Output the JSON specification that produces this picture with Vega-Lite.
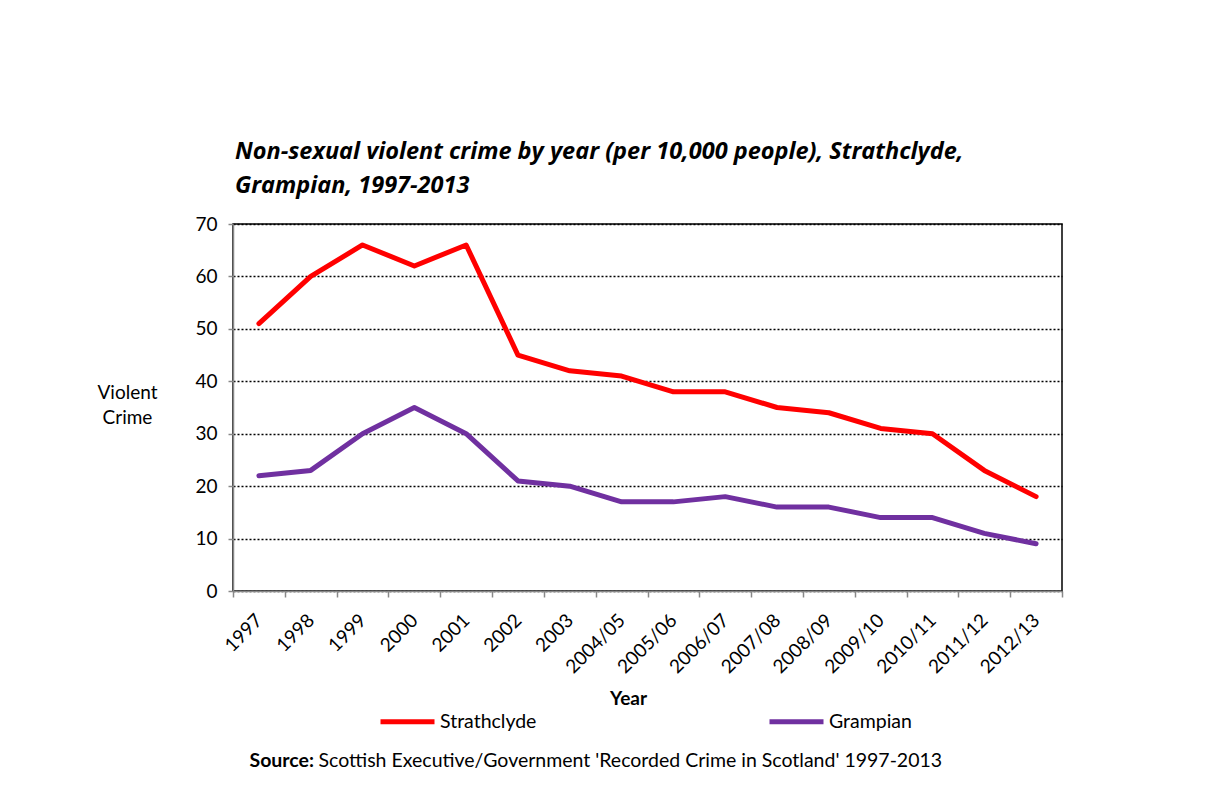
{
  "$schema": "https://vega.github.io/schema/vega-lite/v6.json",
  "width": 829,
  "height": 367,
  "autosize": {"type": "none"},
  "padding": {"left": 233, "top": 224, "right": 146, "bottom": 209},
  "background": "white",
  "title": {
    "text": ["Non-sexual violent crime by year (per 10,000 people),  Strathclyde,", "Grampian, 1997-2013"],
    "anchor": "start",
    "frame": "group",
    "font": "Open Sans",
    "fontSize": 23.5,
    "fontStyle": "italic",
    "fontWeight": "bold",
    "color": "black",
    "lineHeight": 34,
    "offset": 18,
    "dx": 2
  },
  "data": {
    "values": [
      {"year": "1997", "region": "Strathclyde", "value": 51},
      {"year": "1998", "region": "Strathclyde", "value": 60},
      {"year": "1999", "region": "Strathclyde", "value": 66},
      {"year": "2000", "region": "Strathclyde", "value": 62},
      {"year": "2001", "region": "Strathclyde", "value": 66},
      {"year": "2002", "region": "Strathclyde", "value": 45},
      {"year": "2003", "region": "Strathclyde", "value": 42},
      {"year": "2004/05", "region": "Strathclyde", "value": 41},
      {"year": "2005/06", "region": "Strathclyde", "value": 38},
      {"year": "2006/07", "region": "Strathclyde", "value": 38},
      {"year": "2007/08", "region": "Strathclyde", "value": 35},
      {"year": "2008/09", "region": "Strathclyde", "value": 34},
      {"year": "2009/10", "region": "Strathclyde", "value": 31},
      {"year": "2010/11", "region": "Strathclyde", "value": 30},
      {"year": "2011/12", "region": "Strathclyde", "value": 23},
      {"year": "2012/13", "region": "Strathclyde", "value": 18},
      {"year": "1997", "region": "Grampian", "value": 22},
      {"year": "1998", "region": "Grampian", "value": 23},
      {"year": "1999", "region": "Grampian", "value": 30},
      {"year": "2000", "region": "Grampian", "value": 35},
      {"year": "2001", "region": "Grampian", "value": 30},
      {"year": "2002", "region": "Grampian", "value": 21},
      {"year": "2003", "region": "Grampian", "value": 20},
      {"year": "2004/05", "region": "Grampian", "value": 17},
      {"year": "2005/06", "region": "Grampian", "value": 17},
      {"year": "2006/07", "region": "Grampian", "value": 18},
      {"year": "2007/08", "region": "Grampian", "value": 16},
      {"year": "2008/09", "region": "Grampian", "value": 16},
      {"year": "2009/10", "region": "Grampian", "value": 14},
      {"year": "2010/11", "region": "Grampian", "value": 14},
      {"year": "2011/12", "region": "Grampian", "value": 11},
      {"year": "2012/13", "region": "Grampian", "value": 9}
    ]
  },
  "layer": [
    {
      "mark": {"type": "line", "strokeWidth": 5, "strokeCap": "round", "strokeJoin": "round"},
      "encoding": {
        "x": {
          "field": "year",
          "type": "nominal",
          "sort": null,
          "bandPosition": 0.5,
          "scale": {"type": "band", "paddingInner": 0, "paddingOuter": 0},
          "axis": {
            "orient": "bottom",
            "tickBand": "extent",
            "grid": false,
            "labelAngle": -45,
            "labelAlign": "right",
            "labelBaseline": "middle",
            "labelFont": "Lato",
            "labelFontSize": 19,
            "labelColor": "black",
            "labelPadding": 20,
            "tickSize": 6,
            "tickColor": "#888888",
            "tickWidth": 1.5,
            "domainColor": "#888888",
            "domainWidth": 1.5,
            "title": "Year",
            "titleFont": "Lato",
            "titleFontSize": 19,
            "titleFontWeight": "bold",
            "titleColor": "black",
            "titleX": 395,
            "titleY": 107,
            "titleBaseline": "middle",
            "titleAlign": "center"
          }
        },
        "y": {
          "field": "value",
          "type": "quantitative",
          "scale": {"domain": [0, 70], "nice": false},
          "axis": {
            "orient": "left",
            "values": [0, 10, 20, 30, 40, 50, 60, 70],
            "grid": true,
            "gridColor": "black",
            "gridDash": [2, 2],
            "gridWidth": 1.3,
            "labelFont": "Lato",
            "labelFontSize": 19,
            "labelColor": "black",
            "labelPadding": 11,
            "tickSize": 5,
            "tickColor": "#888888",
            "tickWidth": 1.5,
            "domainColor": "#888888",
            "domainWidth": 1.5,
            "title": ["Violent", "Crime"],
            "titleFont": "Lato",
            "titleFontSize": 19,
            "titleFontWeight": "normal",
            "titleColor": "black",
            "titleAngle": 0,
            "titleX": -106,
            "titleY": 168,
            "titleAlign": "center",
            "titleBaseline": "middle",
            "titleLineHeight": 25
          }
        },
        "color": {
          "field": "region",
          "type": "nominal",
          "scale": {"domain": ["Strathclyde", "Grampian"], "range": ["#FF0000", "#7030A0"]},
          "legend": {
            "orient": "none",
            "legendX": 145,
            "legendY": 468,
            "direction": "horizontal",
            "title": null,
            "symbolType": "stroke",
            "symbolSize": 2916,
            "symbolStrokeWidth": 5,
            "labelFont": "Lato",
            "labelFontSize": 19.5,
            "labelColor": "black",
            "labelOffset": 3,
            "columnPadding": 222
          }
        }
      }
    },
    {
      "mark": {"type": "line", "opacity": 0},
      "encoding": {
        "x": {
          "field": "year",
          "type": "nominal",
          "sort": null,
          "bandPosition": 0.5,
          "axis": {
            "orient": "top",
            "labels": false,
            "ticks": false,
            "domain": false,
            "grid": false,
            "title": "Source:",
            "titleFont": "Lato",
            "titleFontSize": 19.5,
            "titleFontWeight": "bold",
            "titleColor": "black",
            "titleX": 16,
            "titleY": 536,
            "titleAlign": "left",
            "titleBaseline": "middle"
          }
        },
        "y": {
          "field": "value",
          "type": "quantitative",
          "axis": {
            "orient": "right",
            "labels": false,
            "ticks": false,
            "domain": false,
            "grid": false,
            "title": "Scottish Executive/Government 'Recorded Crime in Scotland' 1997-2013",
            "titleFont": "Lato",
            "titleFontSize": 19.5,
            "titleFontWeight": "normal",
            "titleColor": "black",
            "titleAngle": 0,
            "titleX": -744,
            "titleY": 536,
            "titleAlign": "left",
            "titleBaseline": "middle"
          }
        }
      }
    }
  ],
  "resolve": {"axis": {"x": "independent", "y": "independent"}},
  "config": {
    "view": {"stroke": "black", "strokeWidth": 1.5},
    "font": "Lato"
  }
}
